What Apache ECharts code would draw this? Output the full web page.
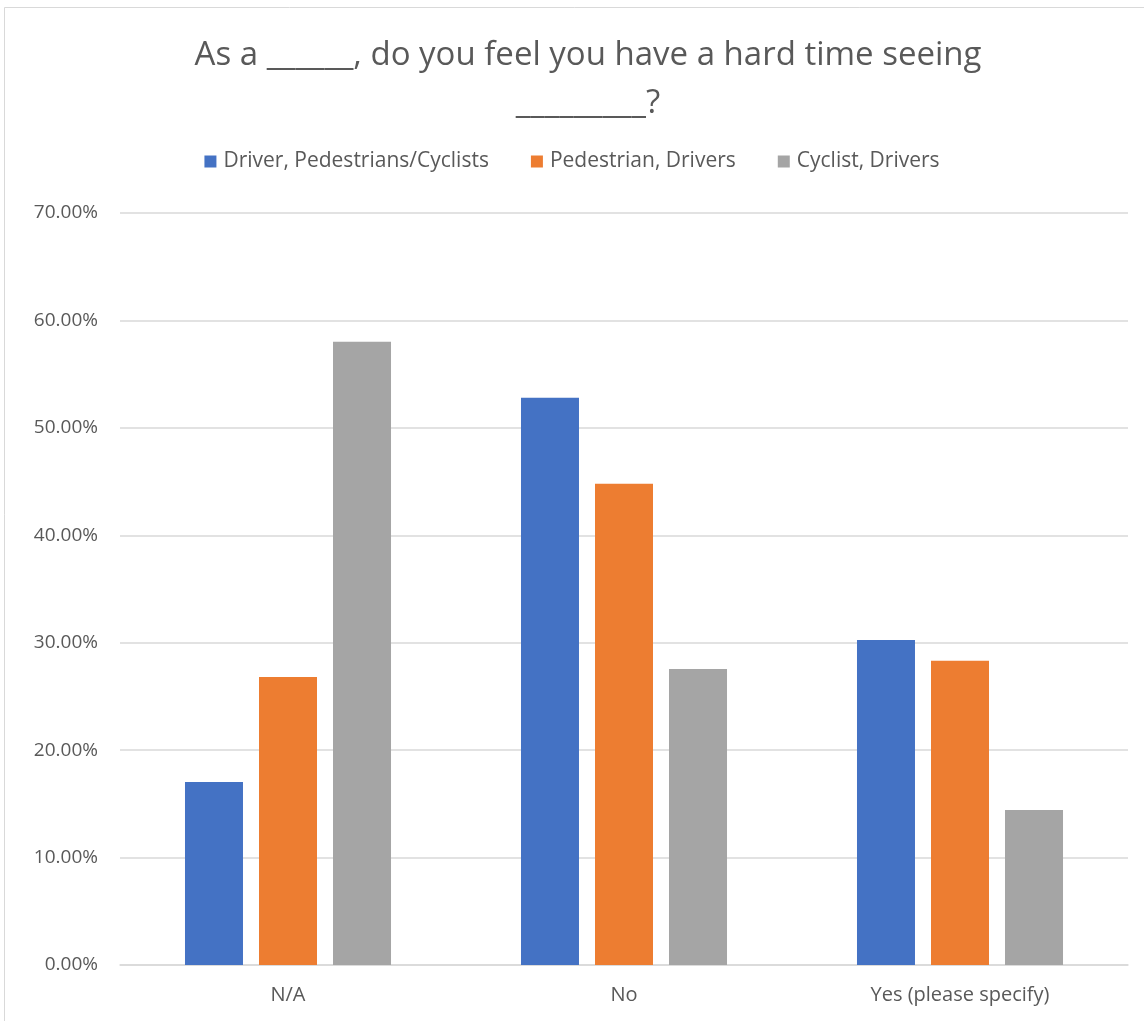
<!DOCTYPE html>
<html><head><meta charset="utf-8">
<script src="https://cdn.jsdelivr.net/npm/echarts@6/dist/echarts.min.js"></script>
<style>html,body{margin:0;padding:0;background:#fff}#c{width:1144px;height:1021px}</style>
</head><body><div id="c"></div>
<script>
var categories = ['N/A', 'No', 'Yes (please specify)'];
var seriesNames = ['Driver, Pedestrians/Cyclists', 'Pedestrian, Drivers', 'Cyclist, Drivers'];
var driverVals = [0.1704, 0.5280, 0.3026];
var pedestrianVals = [0.2682, 0.4479, 0.2831];
var cyclistVals = [0.5801, 0.2756, 0.1443];
var colors = ['#4472C4', '#ED7D31', '#A5A5A5'];
var yTicks = { min: 0, max: 0.7, interval: 0.1 };

var font = "'Open Sans', 'Liberation Sans', sans-serif";
var chart = echarts.init(document.getElementById('c'), null, { renderer: 'canvas' });
var data = [driverVals, pedestrianVals, cyclistVals];
chart.setOption({
  backgroundColor: '#fff',
  animation: false,
  color: colors,
  textStyle: { fontFamily: font },
  graphic: [{
    type: 'rect', shape: { x: 4.5, y: 7.5, width: 1150, height: 1030 },
    style: { fill: 'none', stroke: '#d9d9d9', lineWidth: 1 }, silent: true, z: -1
  }],
  title: {
    text: 'As a ______, do you feel you have a hard time seeing\n_________?',
    left: 583, top: 27, textAlign: 'center',
    textStyle: { fontFamily: font, fontSize: 33, fontWeight: 'normal', color: '#595959', lineHeight: 48 }
  },
  legend: {
    top: 146, left: 'center', itemWidth: 12, itemHeight: 12, itemGap: 42,
    icon: 'rect',
    textStyle: { fontFamily: font, fontSize: 21, color: '#595959', padding: [0, 0, 0, 2] },
    data: seriesNames
  },
  grid: { left: 120, right: 16, top: 213, bottom: 56, containLabel: false },
  xAxis: {
    type: 'category', data: categories,
    axisLine: { lineStyle: { color: '#d9d9d9', width: 1.5 } },
    axisTick: { show: false },
    axisLabel: { fontFamily: font, fontSize: 20, color: '#595959', margin: 20 }
  },
  yAxis: {
    type: 'value', min: yTicks.min, max: yTicks.max, interval: yTicks.interval,
    axisLine: { show: false }, axisTick: { show: false },
    splitLine: { lineStyle: { color: '#d9d9d9', width: 1.5 } },
    axisLabel: { fontFamily: font, fontSize: 19, color: '#595959', margin: 22,
      formatter: function (v) { return (v * 100).toFixed(2) + '%'; } }
  },
  series: seriesNames.map(function (n, i) {
    return { name: n, type: 'bar', data: data[i], barWidth: 58, barGap: '27.6%',
      itemStyle: { color: colors[i] } };
  })
});
</script></body></html>
